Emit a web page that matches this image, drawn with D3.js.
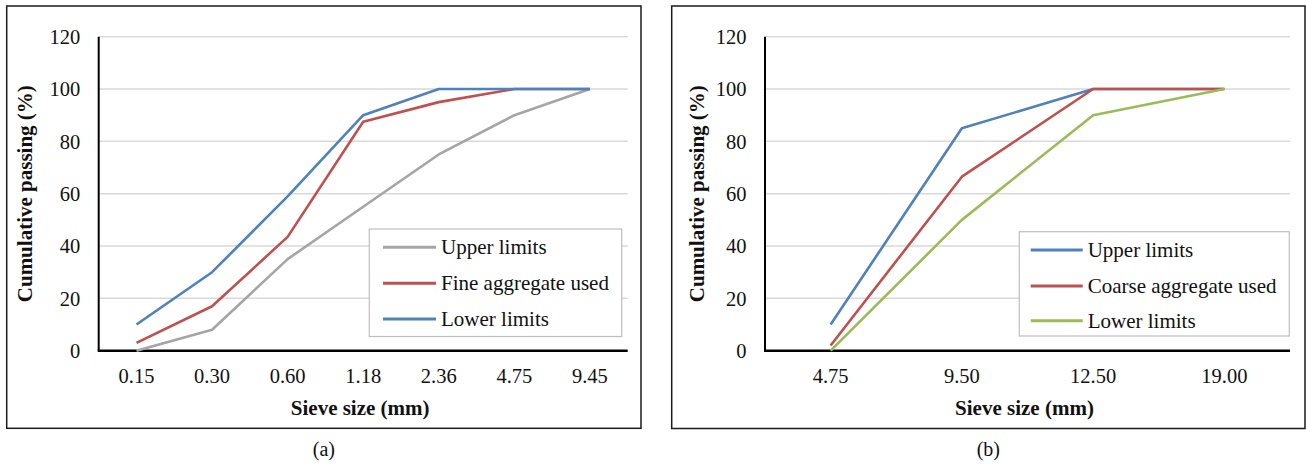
<!DOCTYPE html>
<html>
<head>
<meta charset="utf-8">
<script src="https://cdn.jsdelivr.net/npm/d3@7"></script>
</head>
<body style="margin:0">
<script>
// panel (a): fine aggregate
const fineSieves = ["0.15", "0.30", "0.60", "1.18", "2.36", "4.75", "9.45"];
const fineUpper = [0, 8, 35, 55, 75, 90, 100];
const fineUsed = [3, 17, 43.5, 87.5, 95, 100, 100];
const fineLower = [10, 30, 59, 90, 100, 100, 100];

// panel (b): coarse aggregate
const coarseSieves = ["4.75", "9.50", "12.50", "19.00"];
const coarseUpper = [10, 85, 100, 100];
const coarseUsed = [2, 66.5, 100, 100];
const coarseLower = [0, 50, 90, 100];

const yTicks = [0, 20, 40, 60, 80, 100, 120];

const gray = "#a5a5a5";
const red = "#c0504d";
const blue = "#4f81bd";
const green = "#9bbb59";

function face(size, bold) {
  return (bold ? "bold " : "") + size + "px \"Liberation Serif\", \"Times New Roman\", monospace";
}

const svg = d3.select("body").append("svg")
  .attr("width", 1306)
  .attr("height", 464);

svg.append("rect").attr("width", 1306).attr("height", 464).attr("fill", "#fff");

function drawPanel(p) {
  const g = svg.append("g");

  g.append("rect")
    .attr("x", p.box[0]).attr("y", p.box[1])
    .attr("width", p.box[2] - p.box[0]).attr("height", p.box[3] - p.box[1])
    .attr("fill", "none").attr("stroke", "#1a1a1a").attr("stroke-width", 1.5);

  const x = d3.scalePoint().domain(p.cats).range([p.left, p.right]).padding(0.5);
  const y = d3.scaleLinear().domain([0, 120]).range([350.7, 36.7]);

  // gridlines
  g.append("g").selectAll("line")
    .data(yTicks.filter((d) => d > 0))
    .join("line")
    .attr("x1", p.left).attr("x2", p.right)
    .attr("y1", (d) => y(d)).attr("y2", (d) => y(d))
    .attr("stroke", "#d9d9d9").attr("stroke-width", 1.5);

  // y tick labels
  g.append("g").selectAll("text")
    .data(yTicks)
    .join("text")
    .attr("x", p.left - 18.5)
    .attr("y", (d) => y(d))
    .attr("dy", "0.35em")
    .attr("text-anchor", "end")
    .style("font", face(20.5))
    .attr("fill", "#111")
    .text((d) => d);

  // x tick labels
  g.append("g").selectAll("text")
    .data(p.cats)
    .join("text")
    .attr("x", (d) => x(d))
    .attr("y", 383)
    .attr("text-anchor", "middle")
    .style("font", face(20.5))
    .attr("fill", "#111")
    .text((d) => d);

  // axes lines
  g.append("line")
    .attr("x1", p.left).attr("x2", p.left)
    .attr("y1", y(120)).attr("y2", y(0))
    .attr("stroke", "#000").attr("stroke-width", 2);
  g.append("line")
    .attr("x1", p.left - 1).attr("x2", p.right)
    .attr("y1", y(0)).attr("y2", y(0))
    .attr("stroke", "#000").attr("stroke-width", 2.5);

  // series
  const line = d3.line()
    .x((d, i) => x(p.cats[i]))
    .y((d) => y(d));

  g.append("g").selectAll("path")
    .data(p.series)
    .join("path")
    .attr("d", (s) => line(s.values))
    .attr("fill", "none")
    .attr("stroke", (s) => s.color)
    .attr("stroke-width", 2.6)
    .attr("stroke-linejoin", "round");

  // axis titles
  g.append("text")
    .attr("transform", `translate(${p.yTitleX},${(y(0) + y(120)) / 2}) rotate(-90)`)
    .attr("dy", "0.35em")
    .attr("text-anchor", "middle")
    .style("font", face(21, true))
    .attr("fill", "#111")
    .text("Cumulative passing (%)");

  g.append("text")
    .attr("x", (p.left + p.right) / 2 - 3)
    .attr("y", 415)
    .attr("text-anchor", "middle")
    .style("font", face(21, true))
    .attr("fill", "#111")
    .text("Sieve size (mm)");

  // legend
  const lg = g.append("g");
  lg.append("rect")
    .attr("x", p.legend[0]).attr("y", p.legend[1])
    .attr("width", p.legend[2] - p.legend[0]).attr("height", p.legend[3] - p.legend[1])
    .attr("fill", "#fff").attr("stroke", "#bfbfbf").attr("stroke-width", 1.2);

  const items = lg.selectAll("g")
    .data(p.series)
    .join("g")
    .attr("transform", (s, i) => `translate(0,${p.legendRows[i]})`);
  items.append("line")
    .attr("x1", p.legendLine[0]).attr("x2", p.legendLine[1])
    .attr("stroke", (s) => s.color).attr("stroke-width", 3);
  items.append("text")
    .attr("x", p.legendLine[1] + 5)
    .attr("dy", "0.33em")
    .style("font", face(21))
    .attr("fill", "#111")
    .text((s) => s.name);

  // caption
  svg.append("text")
    .attr("x", (p.box[0] + p.box[2]) / 2)
    .attr("y", 456)
    .attr("text-anchor", "middle")
    .style("font", face(20))
    .attr("fill", "#111")
    .text(p.caption);
}

drawPanel({
  box: [6.7, 6, 641, 428.3],
  left: 98.7,
  right: 627.7,
  yTitleX: 25,
  cats: fineSieves,
  series: [
    { name: "Upper limits", values: fineUpper, color: gray },
    { name: "Fine aggregate used", values: fineUsed, color: red },
    { name: "Lower limits", values: fineLower, color: blue }
  ],
  legend: [369.3, 229, 621.7, 336.5],
  legendRows: [247.3, 283.3, 319],
  legendLine: [383, 436],
  caption: "(a)"
});

drawPanel({
  box: [671.7, 6, 1305, 428.5],
  left: 765,
  right: 1290,
  yTitleX: 697,
  cats: coarseSieves,
  series: [
    { name: "Upper limits", values: coarseUpper, color: blue },
    { name: "Coarse aggregate used", values: coarseUsed, color: red },
    { name: "Lower limits", values: coarseLower, color: green }
  ],
  legend: [1019.3, 231.7, 1289.3, 336],
  legendRows: [250, 286, 320.7],
  legendLine: [1030.7, 1082.7],
  caption: "(b)"
});
</script>
</body>
</html>
